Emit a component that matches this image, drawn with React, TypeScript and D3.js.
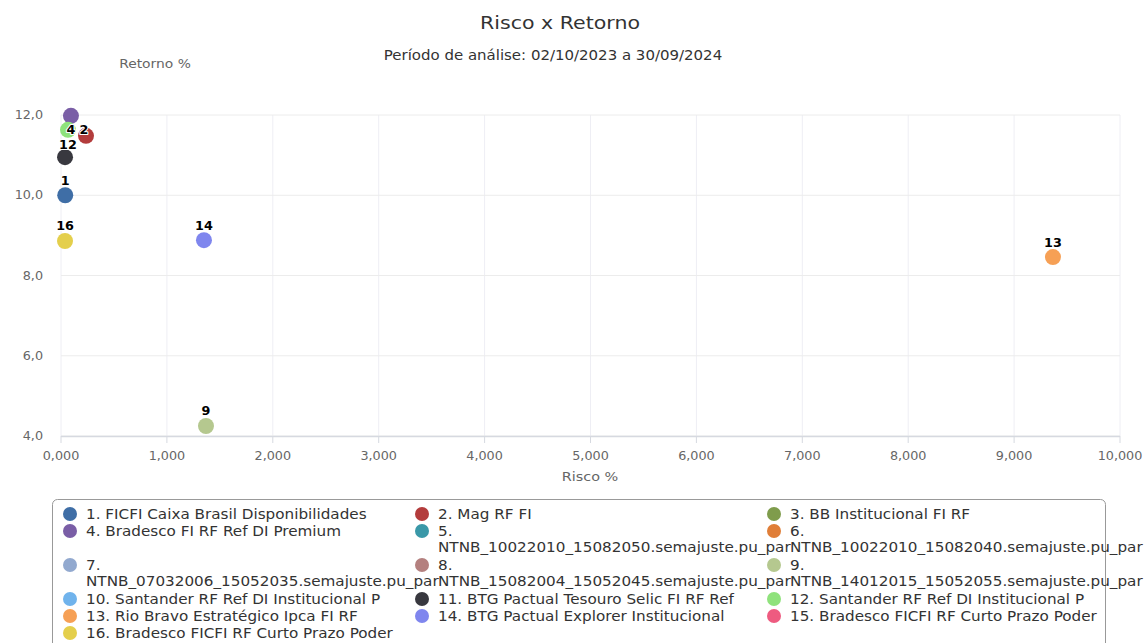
import React, { useEffect } from 'react';
import * as d3 from 'd3';

// legend entries (all funds)
const fundNames = [
  '1. FICFI Caixa Brasil Disponibilidades',
  '2. Mag RF FI',
  '3. BB Institucional FI RF',
  '4. Bradesco FI RF Ref DI Premium',
  '5. NTNB_10022010_15082050.semajuste.pu_par',
  '6. NTNB_10022010_15082040.semajuste.pu_par',
  '7. NTNB_07032006_15052035.semajuste.pu_par',
  '8. NTNB_15082004_15052045.semajuste.pu_par',
  '9. NTNB_14012015_15052055.semajuste.pu_par',
  '10. Santander RF Ref DI Institucional P',
  '11. BTG Pactual Tesouro Selic FI RF Ref',
  '12. Santander RF Ref DI Institucional P',
  '13. Rio Bravo Estratégico Ipca FI RF',
  '14. BTG Pactual Explorer Institucional',
  '15. Bradesco FICFI RF Curto Prazo Poder',
  '16. Bradesco FICFI RF Curto Prazo Poder',
];
const fundColors = [
  '#3f6ea6', '#b33c3c', '#7f9c4c', '#7a5ea6', '#3a98a8', '#e07e38', '#92a9cf', '#b4807f',
  '#b5c88f', '#70b3ec', '#38383f', '#8fe27c', '#f6a055', '#7f86ee', '#ee5b80', '#e4cf4c',
];

// plotted points (fund number, risco %, retorno %)
const pointIds = [1, 2, 4, 9, 11, 12, 13, 14, 16];
const riscoValues = [0.04, 0.236, 0.094, 1.369, 0.038, 0.066, 9.367, 1.35, 0.038];
const retornoValues = [10.0, 11.48, 11.98, 4.25, 10.95, 11.63, 8.46, 8.88, 8.86];
const labelsHidden = [11];
const labelsBelow = [12];

const xTicks = [0, 1, 2, 3, 4, 5, 6, 7, 8, 9, 10];
const yTicks = [4, 6, 8, 10, 12];

const W = 1146;
const H = 643;
const plot = { left: 61, right: 1120, top: 115, bottom: 436 };
const FONT = '"DejaVu Sans", sans-serif';
const SX = 1.11; // the original text is slightly wider than plain DejaVu

const fmtX = (v: number) => d3.format('.3f')(v).replace('.', ',');
const fmtY = (v: number) => d3.format('.1f')(v).replace('.', ',');

// text drawn at (x, y) and stretched a bit horizontally
const T = (props: any) => {
  const { x, y, children, ...rest } = props;
  return (
    <text transform={`translate(${x},${y}) scale(${SX},1)`} {...rest}>
      {children}
    </text>
  );
};

const App = () => {
  useEffect(() => {
    document.body.style.margin = '0';
  }, []);

  const x = d3.scaleLinear().domain([0, 10]).range([plot.left, plot.right]);
  const y = d3.scaleLinear().domain([4, 12]).range([plot.bottom, plot.top]);

  const points = pointIds.map((id, i) => ({
    id,
    cx: x(riscoValues[i]),
    cy: y(retornoValues[i]),
    color: fundColors[id - 1],
  }));

  // legend layout: 3 columns, long names wrap after the number
  const colX = [70, 422, 774];
  const lineH = 17;
  const legendItems = fundNames.map((name, i) => ({
    name,
    color: fundColors[i],
    col: i % 3,
    row: Math.floor(i / 3),
  }));
  const rowLines = d3.range(6).map((r) =>
    d3.max(legendItems.filter((d) => d.row === r), (d) => (d.name.includes('NTNB') ? 2 : 1)) || 1
  );
  const rowY: number[] = [];
  let yy = 514;
  rowLines.forEach((n) => {
    rowY.push(yy);
    yy += n * lineH;
  });

  return (
    <svg width={W} height={H} style={{ display: 'block', fontFamily: FONT }}>
      <rect x={0} y={0} width={W} height={H} fill="#fff" />
      <T x={560} y={29} textAnchor="middle" fontSize={18.5} fill="#333">Risco x Retorno</T>
      <T x={553} y={60} textAnchor="middle" fontSize={13.5} fill="#333">Período de análise: 02/10/2023 a 30/09/2024</T>
      <T x={155} y={68} textAnchor="middle" fontSize={12.5} fill="#666">Retorno %</T>

      {/* grid */}
      {xTicks.map((t) => (
        <line key={'gx' + t} x1={x(t)} x2={x(t)} y1={plot.top} y2={plot.bottom} stroke="#eeeef4" strokeWidth={1} />
      ))}
      {yTicks.map((t) => (
        <line key={'gy' + t} x1={plot.left} x2={plot.right} y1={y(t)} y2={y(t)} stroke="#ececec" strokeWidth={1} />
      ))}
      <line x1={plot.left} x2={plot.right} y1={plot.bottom + 0.5} y2={plot.bottom + 0.5} stroke="#d6d9e0" strokeWidth={1.5} />
      {xTicks.map((t) => (
        <line key={'tx' + t} x1={x(t)} x2={x(t)} y1={plot.bottom} y2={plot.bottom + 7} stroke="#d6d9e0" strokeWidth={1} />
      ))}

      {/* tick labels */}
      {yTicks.map((t) => (
        <T key={'ly' + t} x={43} y={y(t) + 4} textAnchor="end" fontSize={11.5} fill="#666">{fmtY(t)}</T>
      ))}
      {xTicks.map((t) => (
        <T key={'lx' + t} x={x(t)} y={460} textAnchor="middle" fontSize={11.5} fill="#666">{fmtX(t)}</T>
      ))}
      <T x={590} y={481} textAnchor="middle" fontSize={13} fill="#666">Risco %</T>

      {/* markers */}
      {points.map((p) => (
        <circle key={'p' + p.id} cx={p.cx} cy={p.cy} r={8} fill={p.color} />
      ))}
      {/* data labels */}
      {points
        .filter((p) => !labelsHidden.includes(p.id))
        .map((p) => {
          const below = labelsBelow.includes(p.id);
          let cyLabel = below ? p.cy + 15 : p.cy - 14.5;
          cyLabel = Math.max(cyLabel, plot.top + 15);
          return (
            <T
              key={'dl' + p.id}
              x={p.cx + (p.id === 2 ? -2 : 0)}
              y={cyLabel + 4}
              textAnchor="middle"
              fontSize={11.5}
              fontWeight="bold"
              fill="#000"
              stroke="#fff"
              strokeWidth={2}
              strokeLinejoin="round"
              style={{ paintOrder: 'stroke' }}
            >
              {p.id}
            </T>
          );
        })}

      {/* legend */}
      <rect x={52.5} y={499.5} width={1053} height={170} rx={5} fill="none" stroke="#999" strokeWidth={1} />
      {legendItems.map((d, i) => {
        const cx = colX[d.col];
        const cy = rowY[d.row];
        const wrap = d.name.includes('NTNB');
        const num = d.name.slice(0, d.name.indexOf(' '));
        const rest = d.name.slice(d.name.indexOf(' ') + 1);
        return (
          <g key={'lg' + i}>
            <circle cx={cx} cy={cy} r={7} fill={d.color} />
            {wrap ? (
              <T x={cx + 16} y={cy + 4.5} fontSize={13.7} fill="#333">
                <tspan x={0}>{num}</tspan>
                <tspan x={0} dy={lineH}>{rest}</tspan>
              </T>
            ) : (
              <T x={cx + 16} y={cy + 4.5} fontSize={13.7} fill="#333">{d.name}</T>
            )}
          </g>
        );
      })}
    </svg>
  );
};

export default App;
